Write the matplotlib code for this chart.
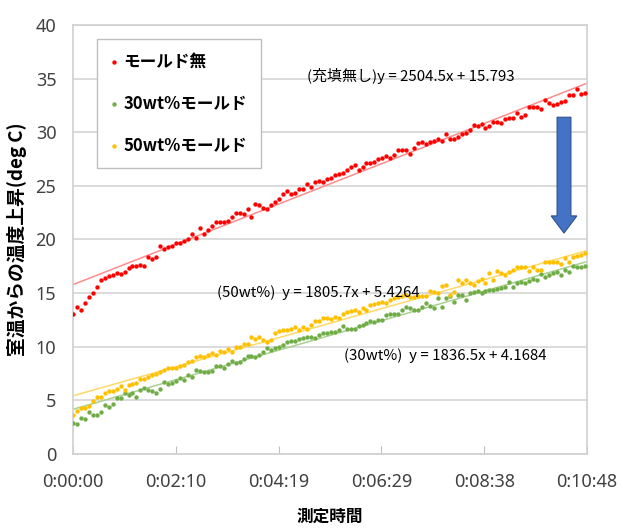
import numpy as np
import matplotlib
matplotlib.use("Agg")
import matplotlib.pyplot as plt
from matplotlib.patches import FancyArrow

plt.rcParams['font.family'] = ['Noto Sans CJK JP', 'DejaVu Sans']

# 測定データ (5秒間隔, 室温からの温度上昇 deg C)
SAMPLE_SEC = 5
red_vals = [
    13.05, 13.7, 13.4, 14.1, 14.6, 15.0, 15.6, 16.2, 16.4, 16.6,
    16.7, 16.9, 16.8, 17.0, 17.3, 17.5, 17.5, 17.6, 17.5, 18.4,
    18.2, 18.4, 19.4, 19.1, 19.3, 19.4, 19.7, 19.7, 19.9, 20.0,
    20.5, 20.1, 21.1, 20.5, 20.9, 21.3, 21.6, 21.6, 21.6, 21.7,
    22.1, 22.5, 22.5, 22.4, 22.8, 22.1, 23.3, 23.2, 22.9, 22.8,
    23.2, 23.5, 23.8, 24.2, 24.5, 24.2, 24.3, 24.7, 24.7, 25.2,
    24.9, 25.4, 25.5, 25.4, 25.6, 25.7, 26.0, 26.1, 26.2, 26.5,
    26.8, 26.9, 26.5, 26.8, 27.1, 27.1, 27.2, 27.5, 27.6, 27.8,
    27.6, 27.9, 28.3, 28.3, 28.3, 28.0, 28.5, 29.0, 29.1, 28.9,
    29.1, 29.2, 29.4, 29.2, 29.8, 29.4, 29.4, 29.6, 29.8, 29.9,
    30.2, 30.7, 30.6, 30.8, 30.4, 30.6, 31.0, 31.0, 30.9, 31.2,
    31.3, 31.3, 31.8, 31.4, 31.6, 32.4, 32.4, 32.4, 32.2, 33.0,
    32.7, 32.5, 32.6, 32.8, 32.9, 33.5, 33.5, 34.0, 33.6, 33.7,
]
green_vals = [
    2.9, 2.8, 3.4, 3.3, 3.9, 3.6, 3.6, 3.9, 4.6, 4.4,
    4.7, 5.2, 5.2, 5.7, 5.5, 5.7, 5.3, 6.0, 6.2, 6.0,
    5.9, 5.7, 6.1, 6.7, 6.5, 6.6, 6.8, 7.1, 6.9, 7.4,
    7.2, 7.8, 7.7, 7.6, 7.6, 7.7, 8.2, 8.2, 8.0, 8.4,
    8.7, 8.5, 8.6, 8.9, 9.1, 9.1, 9.0, 9.2, 9.5, 9.9,
    9.7, 9.9, 10.0, 10.2, 10.4, 10.5, 10.5, 10.7, 10.8, 10.9,
    10.9, 10.8, 11.1, 11.3, 11.3, 11.4, 11.4, 11.6, 11.9, 11.7,
    11.7, 11.7, 11.9, 12.0, 12.2, 12.4, 12.3, 12.5, 12.5, 13.0,
    13.1, 13.1, 13.1, 13.4, 13.7, 13.6, 13.4, 13.4, 13.7, 14.1,
    13.8, 13.6, 14.5, 13.7, 14.5, 14.7, 14.2, 14.8, 14.8, 14.4,
    15.0, 15.1, 15.2, 15.0, 15.2, 15.3, 15.3, 15.4, 15.5, 15.6,
    16.0, 15.6, 15.9, 16.0, 15.9, 16.1, 16.3, 16.2, 16.8, 16.5,
    16.7, 16.9, 17.0, 16.7, 17.2, 17.0, 17.5, 17.4, 17.4, 17.5,
]
yellow_vals = [
    3.6, 4.0, 4.3, 4.3, 4.5, 4.9, 5.3, 5.3, 5.7, 5.9,
    5.9, 6.1, 6.3, 6.0, 6.4, 6.5, 6.6, 7.0, 7.0, 7.2,
    7.4, 7.5, 7.6, 7.8, 8.0, 8.0, 8.0, 8.2, 8.3, 8.6,
    8.7, 9.0, 9.1, 9.0, 9.2, 9.4, 9.2, 9.6, 9.5, 9.8,
    9.5, 10.0, 10.0, 10.3, 10.3, 10.9, 10.7, 10.9, 10.6, 10.4,
    10.6, 11.3, 11.5, 11.6, 11.6, 11.7, 11.8, 11.6, 11.8, 11.7,
    12.0, 12.4, 12.4, 12.7, 12.7, 12.6, 12.8, 12.7, 13.1, 13.2,
    13.3, 13.4, 13.2, 13.6, 13.4, 13.9, 14.0, 14.1, 14.2, 14.1,
    14.4, 14.5, 14.6, 14.7, 14.8, 14.6, 14.6, 14.7, 14.7, 14.7,
    15.2, 15.1, 15.0, 15.7, 15.8, 14.8, 15.1, 16.2, 15.9, 16.2,
    15.9, 15.8, 16.1, 16.3, 15.9, 16.9, 16.2, 17.1, 16.9, 16.7,
    17.0, 17.2, 17.4, 17.4, 17.4, 17.1, 17.4, 17.2, 17.2, 17.9,
    17.9, 17.9, 17.9, 17.7, 18.3, 17.9, 18.4, 18.5, 18.6, 18.7,
]
t_sec = np.arange(len(red_vals)) * SAMPLE_SEC

# 近似直線 (Excel: x は日単位)
fits = {
    'red': (2504.5, 15.793),
    'green': (1836.5, 4.1684),
    'yellow': (1805.7, 5.4264),
}
fit_labels = {
    'red': '(充填無し)y = 2504.5x + 15.793',
    'yellow': '(50wt%)  y = 1805.7x + 5.4264',
    'green': '(30wt%)  y = 1836.5x + 4.1684',
}

x_max = 648
tick_pos = np.linspace(0, x_max, 6)
tick_labels = ['0:00:00', '0:02:10', '0:04:19', '0:06:29', '0:08:38', '0:10:48']

fig = plt.figure(figsize=(6.23, 5.31), dpi=100)
ax = fig.add_axes([73/623, 77/531, 514/623, 429/531])

c_red, c_green, c_yellow = '#FF0000', '#70AD47', '#FFC000'
ax.scatter(t_sec, red_vals, s=10, color=c_red, label='モールド無', zorder=3, linewidths=0)
ax.scatter(t_sec, green_vals, s=10, color=c_green, label='30wt%モールド', zorder=3, linewidths=0)
ax.scatter(t_sec, yellow_vals, s=10, color=c_yellow, label='50wt%モールド', zorder=3, linewidths=0)

line_cols = {'red': '#FF8C8C', 'green': '#A9D18E', 'yellow': '#FFD966'}
xx = np.array([0, x_max])
for k, (a, b) in fits.items():
    ax.plot(xx, b + a * xx / 86400, color=line_cols[k], lw=1.1, zorder=2)

# 式ラベル
ax.text(295, 35.2, fit_labels['red'], fontsize=10.8, ha='left', va='center')
ax.text(181, 15.0, fit_labels['yellow'], fontsize=10.8, ha='left', va='center')
ax.text(342, 9.2, fit_labels['green'], fontsize=10.8, ha='left', va='center')

# 下向き矢印
arr = FancyArrow(619, 31.4, 0, -10.8, width=17.5, head_width=32.5, head_length=1.6,
                 length_includes_head=True, facecolor='#4472C4', edgecolor='#2F528F',
                 lw=0.8, zorder=4)
ax.add_patch(arr)

ax.set_xlim(0, x_max)
ax.set_ylim(0, 40)
ax.set_yticks(np.arange(0, 41, 5))
ax.set_xticks(tick_pos)
ax.set_xticklabels(tick_labels)
for lab in ax.get_xticklabels() + ax.get_yticklabels():
    lab.set_fontfamily('Noto Sans')
    lab.set_fontsize(13)
    lab.set_color('#404040')
ax.tick_params(axis='x', direction='in', length=6, color='#BFBFBF', pad=14)
ax.tick_params(axis='y', length=0, pad=12)

ax.yaxis.grid(True, color='#D9D9D9', lw=1.3)
ax.set_axisbelow(True)
for sp in ax.spines.values():
    sp.set_color('#D0D0D0')
    sp.set_linewidth(1.2)

ax.set_xlabel('測定時間', fontsize=12, fontweight='bold', labelpad=12)
ax.set_ylabel('室温からの温度上昇(deg C)', fontsize=13.5, fontweight='bold')
ax.yaxis.set_label_coords(-0.09, 0.5)

leg = ax.legend(loc='upper left', bbox_to_anchor=(24/514, 1 - 14/429), borderaxespad=0,
                prop={'size': 12, 'weight': 'bold'}, frameon=True, fancybox=False,
                edgecolor='#BFBFBF', framealpha=1, scatterpoints=1, handlelength=0.4,
                handletextpad=0.4, labelspacing=1.45, borderpad=0.8)
leg.get_frame().set_linewidth(1.0)

fig.savefig('out.png', dpi=100, facecolor='white')
